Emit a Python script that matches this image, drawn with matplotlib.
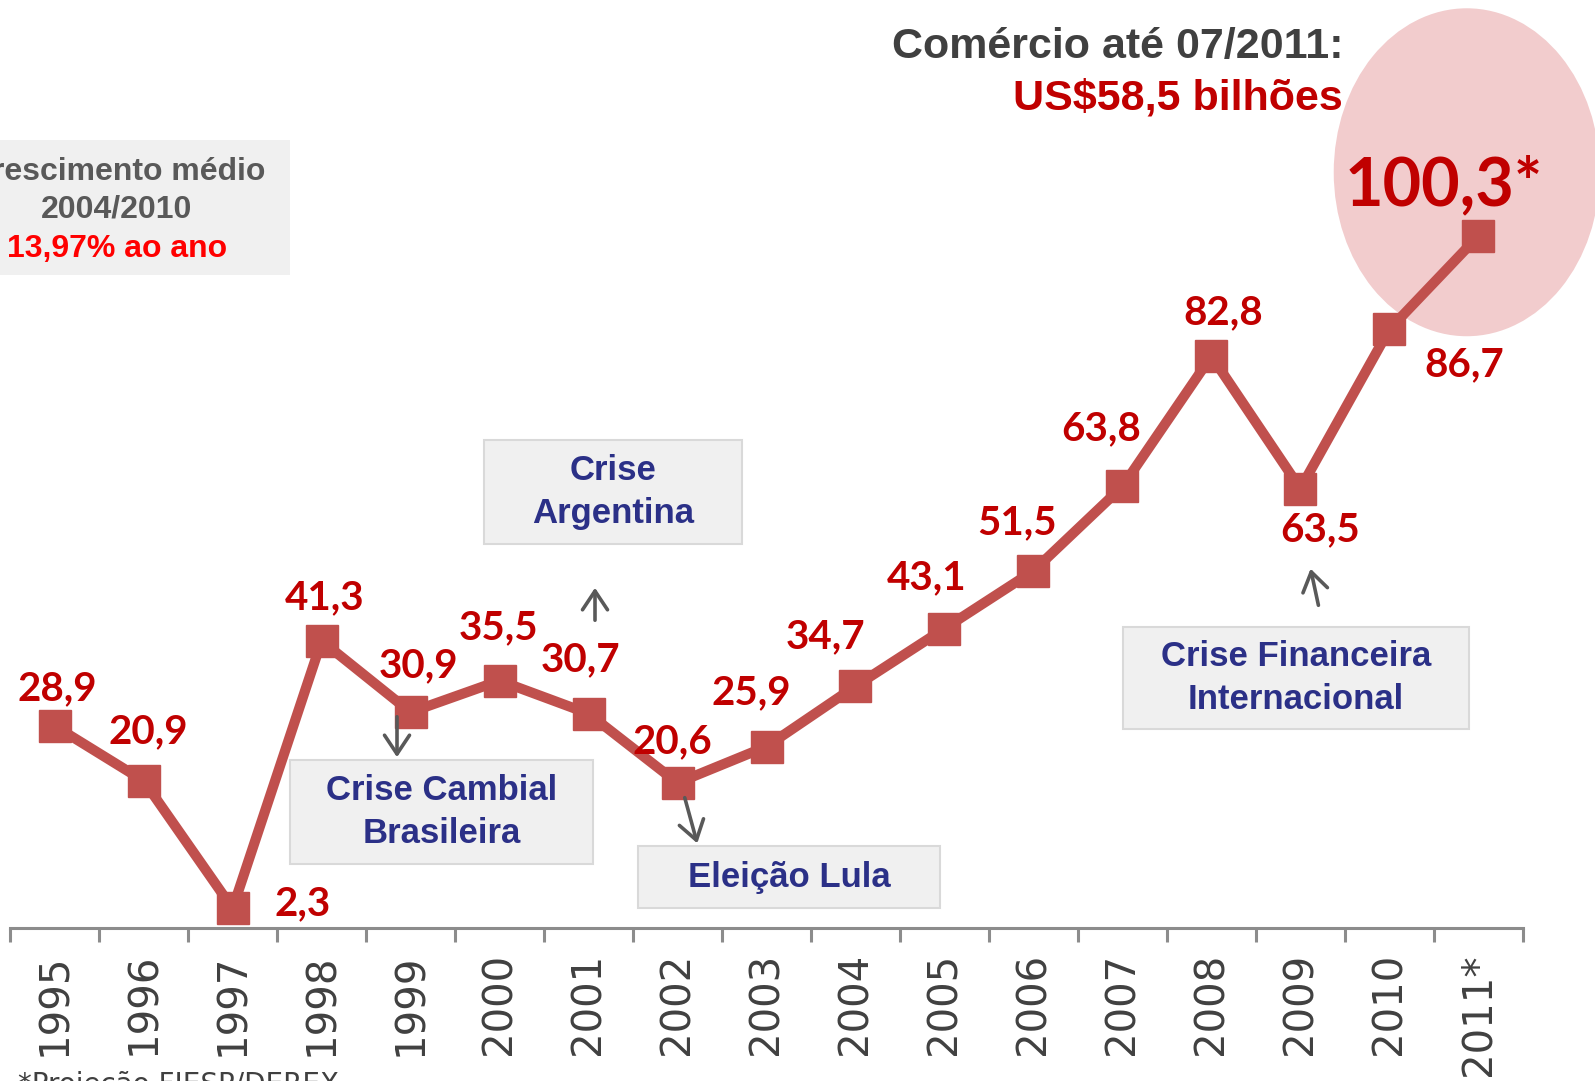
import matplotlib
matplotlib.use("Agg")
import matplotlib.pyplot as plt
from matplotlib.patches import Ellipse, Rectangle, FancyArrowPatch

years = ["1995", "1996", "1997", "1998", "1999", "2000", "2001", "2002", "2003",
         "2004", "2005", "2006", "2007", "2008", "2009", "2010", "2011*"]
values = [28.9, 20.9, 2.3, 41.3, 30.9, 35.5, 30.7, 20.6, 25.9,
          34.7, 43.1, 51.5, 63.8, 82.8, 63.5, 86.7, 100.3]
value_labels = ["28,9", "20,9", "2,3", "41,3", "30,9", "35,5", "30,7", "20,6", "25,9",
                "34,7", "43,1", "51,5", "63,8", "82,8", "63,5", "86,7", "100,3*"]

# label offsets in pixels (dx, dy) from the marker
label_offsets = [(3, 37), (5, 49), (70, 5), (3, 43), (8, 47), (-1, 53), (-8, 54),
                 (-5, 41), (-15, 54), (-30, 49), (-18, 51), (-16, 48), (-21, 58),
                 (12, 43), (20, -41), (75, -35), (-35, 50)]

W, H = 1595, 1081
LINE = "#C0504D"
RED = "#C00000"
BLUE = "#2B3087"
GRAY = "#595959"


def fx(x):
    return x / W


def fy(y):
    return 1 - y / H


fig = plt.figure(figsize=(W / 100, H / 100), dpi=100)
ax = fig.add_axes([fx(10.2), fy(928), 1512.6 / W, (928 - 32.3) / H])

x = list(range(len(years)))
ax.plot(x, values, color=LINE, lw=7.3, marker="s", markersize=23.5,
        markerfacecolor=LINE, markeredgecolor=LINE, zorder=3, clip_on=False)

# highlight ellipse around the last point
ax.add_patch(Ellipse((15.87, 109.6), 2.99, 47.8, facecolor="#F2CCCD",
                     edgecolor="none", zorder=1, clip_on=False))

for i, (lab, off) in enumerate(zip(value_labels, label_offsets)):
    size = 48 if i == len(years) - 1 else 29
    ax.annotate(lab, (x[i], values[i]), xytext=off, textcoords="offset pixels",
                ha="center", va="center", color=RED, fontsize=size,
                fontweight="bold", family="Lato", zorder=4, annotation_clip=False)

ax.set_xlim(-0.5, len(years) - 0.5)
ax.set_ylim(-0.55, 130)
for s in ["top", "right", "left"]:
    ax.spines[s].set_visible(False)
ax.spines["bottom"].set_color("#8C8C8C")
ax.spines["bottom"].set_linewidth(2.2)
ax.set_yticks([])
ax.set_xticks(x)
ax.set_xticklabels(years, rotation=90, fontsize=29, color="#404040", family="DejaVu Sans")
ax.tick_params(axis="x", which="major", length=0, pad=18)
ax.set_xticks([i - 0.5 for i in range(len(years) + 1)], minor=True)
ax.tick_params(axis="x", which="minor", length=10, width=2.2, color="#8C8C8C")

# annotation boxes (pixel coordinates of the picture)
boxes = [
    ((484, 440, 742, 544), "Crise\nArgentina"),
    ((290, 760, 593, 864), "Crise Cambial\nBrasileira"),
    ((638, 846, 940, 908), "Eleição Lula"),
    ((1123, 627, 1469, 729), "Crise Financeira\nInternacional"),
]
for (x0, y0, x1, y1), txt in boxes:
    fig.patches.append(Rectangle((fx(x0), fy(y1)), fx(x1 - x0), (y1 - y0) / H,
                                 transform=fig.transFigure, facecolor="#F0F0F0",
                                 edgecolor="#D9D9D9", lw=1.5))
    fig.text(fx((x0 + x1) / 2), fy((y0 + y1) / 2), txt, ha="center", va="center",
             color=BLUE, fontsize=25, fontweight="bold", family="Liberation Sans",
             linespacing=1.4)

# arrows
arrows = [((397, 714), (397, 760)), ((595, 623), (595, 585)),
          ((684, 795), (698, 846)), ((1319, 608), (1310, 566))]
for (xs, ys), (xe, ye) in arrows:
    fig.add_artist(FancyArrowPatch(
        (fx(xs), fy(ys)), (fx(xe), fy(ye)), transform=fig.transFigure,
        arrowstyle="->,head_length=9,head_width=6", color=GRAY, lw=2.6,
        mutation_scale=1.5))

# growth box top-left
fig.patches.append(Rectangle((0, fy(275)), fx(290), 135 / H, transform=fig.transFigure,
                             facecolor="#F0F0F0", edgecolor="none"))
fig.text(fx(117), fy(172), "Crescimento médio", ha="center", va="center",
         color=GRAY, fontsize=23, fontweight="bold", family="Liberation Sans")
fig.text(fx(117), fy(210), "2004/2010", ha="center", va="center",
         color=GRAY, fontsize=23, fontweight="bold", family="Liberation Sans")
fig.text(fx(117), fy(249), "13,97% ao ano", ha="center", va="center",
         color="#FF0000", fontsize=23, fontweight="bold", family="Liberation Sans")

# top title
fig.text(fx(1343), fy(47), "Comércio até 07/2011:", ha="right", va="center",
         color="#404040", fontsize=31, fontweight="bold", family="Liberation Sans")
fig.text(fx(1343), fy(99), "US$58,5 bilhões", ha="right", va="center",
         color=RED, fontsize=31, fontweight="bold", family="Liberation Sans")

fig.text(fx(18), fy(1071), "*Projeção FIESP/DEREX", ha="left", va="top",
         color="#404040", fontsize=20, family="DejaVu Sans")

fig.savefig("out.png", dpi=100)
